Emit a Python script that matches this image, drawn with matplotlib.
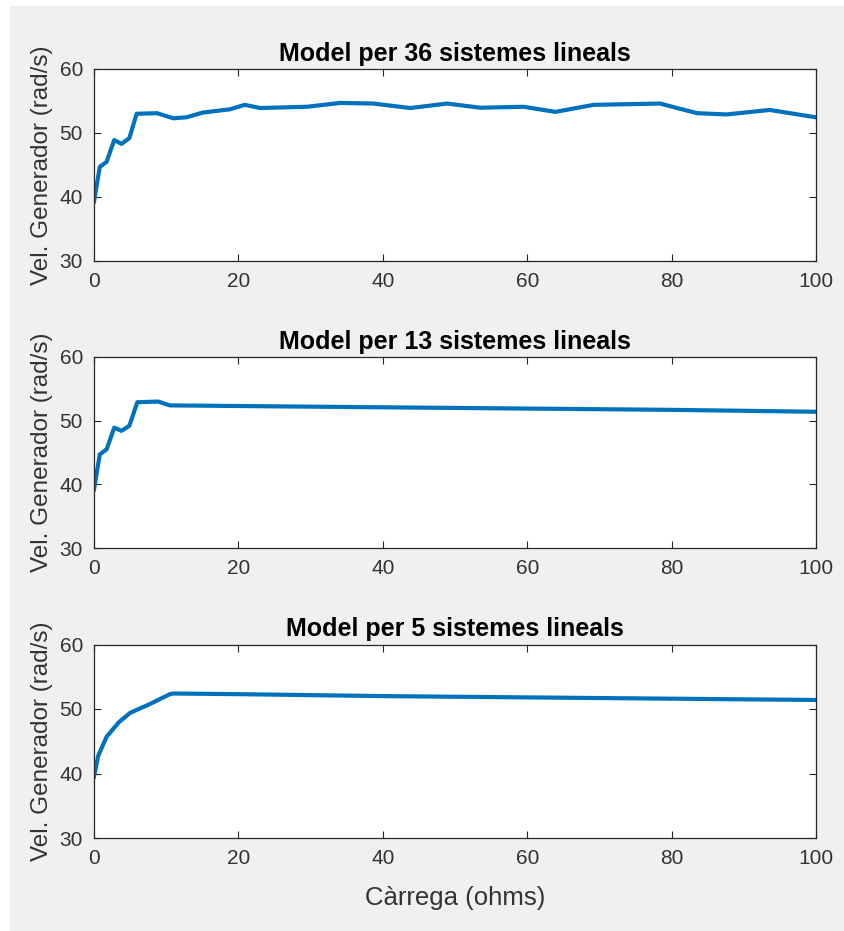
import numpy as np
import matplotlib.pyplot as plt
from matplotlib.patches import Rectangle

plt.rcParams['font.family'] = ['Liberation Sans', 'DejaVu Sans']

# Keypoints (load in ohms, generator speed in rad/s)
titles = ['Model per 36 sistemes lineals',
          'Model per 13 sistemes lineals',
          'Model per 5 sistemes lineals']

x36 = [0, 0.8, 1.75, 2.8, 3.8, 4.9, 5.9, 8.7, 11.0, 12.8, 15.1, 18.8, 20.9, 23.0,
       29.5, 34.1, 38.7, 43.8, 48.9, 53.5, 59.5, 63.9, 69.2, 78.4, 83.5, 87.6, 93.6, 100]
y36 = [39.3, 44.7, 45.5, 48.9, 48.3, 49.2, 53.0, 53.1, 52.3, 52.45, 53.2, 53.7, 54.4, 53.9,
       54.1, 54.7, 54.6, 53.9, 54.6, 53.95, 54.1, 53.3, 54.4, 54.6, 53.1, 52.9, 53.6, 52.45]

x13 = [0, 0.8, 1.75, 2.8, 3.8, 4.9, 6.0, 8.9, 10.5, 20, 40, 60, 80, 100]
y13 = [39.2, 44.7, 45.5, 48.9, 48.4, 49.2, 52.9, 53.0, 52.4, 52.3, 52.1, 51.9, 51.7, 51.4]

x5 = [0, 0.6, 1.75, 3.4, 5.0, 7.8, 10.5, 11.0, 20, 40, 60, 80, 100]
y5 = [39.5, 42.8, 45.7, 47.9, 49.4, 50.8, 52.3, 52.4, 52.3, 52.0, 51.8, 51.6, 51.4]

series = [(x36, y36), (x13, y13), (x5, y5)]

xticks = [0, 20, 40, 60, 80, 100]
yticks = [30, 40, 50, 60]

W, H = 844, 931
fig = plt.figure(figsize=(W / 100, H / 100), dpi=100, facecolor='white')
fig.patches.append(Rectangle((10 / W, 0), 1 - 10 / W, 1 - 6 / H, transform=fig.transFigure,
                             facecolor='#f0f0f0', edgecolor='none', zorder=-10))

# axes boxes in pixels: (top, bottom)
boxes = [(69, 261), (357, 548), (644.5, 838)]
left, right = 94, 816
dark = '#262626'

for (top, bottom), (xs, ys), title in zip(boxes, series, titles):
    ax = fig.add_axes([left / W, 1 - bottom / H, (right - left) / W, (bottom - top) / H])
    ax.plot(xs, ys, color='#0072BD', lw=3, solid_joinstyle='round')
    ax.set_xlim(0, 100)
    ax.set_ylim(30, 60)
    ax.set_xticks(xticks)
    ax.set_yticks(yticks)
    ax.tick_params(direction='in', length=5, width=0.8, colors=dark, labelsize=15,
                   top=True, right=True, labelcolor='#333333', pad=8)
    for s in ax.spines.values():
        s.set_color(dark)
        s.set_linewidth(0.9)
    ax.set_title(title, fontsize=18, fontweight='bold', color='black', pad=6)
    ax.set_ylabel('Vel. Generador (rad/s)', fontsize=17.5, color='#333333', labelpad=5)

ax.set_xlabel('Càrrega (ohms)', fontsize=18.5, color='#333333', labelpad=13)

fig.savefig('out.png', dpi=100, facecolor=fig.get_facecolor())
